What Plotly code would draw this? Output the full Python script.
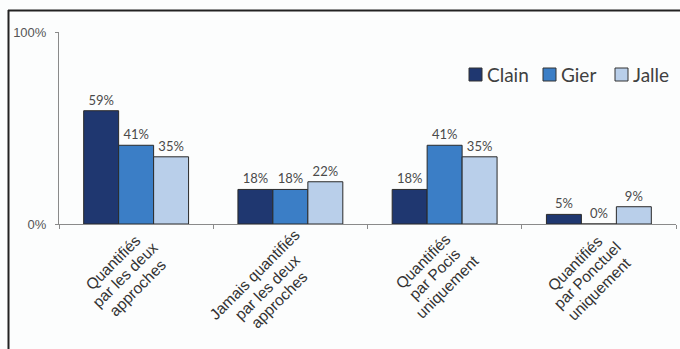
import math
import plotly.graph_objects as go

categories = [
    "Quantifiés<br>par les deux<br>approches",
    "Jamais quantifiés<br>par les deux<br>approches",
    "Quantifiés<br>par Pocis<br>uniquement",
    "Quantifiés<br>par Ponctuel<br>uniquement",
]
clain = [59, 18, 18, 5]
gier = [41, 18, 41, 0]
jalle = [35, 22, 35, 9]
series_names = ["Clain", "Gier", "Jalle"]
series_colors = ["#1f3770", "#3b7ec6", "#b9cfea"]
y_ticks = [0, 100]
y_tick_labels = ["0%", "100%"]

W, H = 680, 349
L, R, T, B = 59, 4, 32, 125

pw = W - L - R
ph = H - T - B


def px_x(p):
    return (p - L) / pw


def px_y(p):
    return (H - B - p) / ph


# Arial advance widths (per 1000 em) used to centre the rotated label lines
ARIAL_W = {" ": 278, "a": 556, "c": 500, "d": 556, "e": 556, "é": 556, "f": 278,
           "g": 556, "h": 556, "i": 222, "l": 222, "m": 833, "n": 556, "o": 556,
           "p": 556, "q": 556, "r": 333, "s": 500, "t": 278, "u": 556, "x": 500,
           "J": 500, "P": 667, "Q": 778}


def text_width(s, size):
    return sum(ARIAL_W.get(ch, 556) for ch in s) * size / 1000.0


fig = go.Figure()
for name, vals, col in zip(series_names, [clain, gier, jalle], series_colors):
    fig.add_trace(go.Bar(
        name=name, x=categories, y=vals,
        marker=dict(color=col, line=dict(color="#2a2a2a", width=1)),
        text=[f"{v}%" for v in vals], textposition="outside",
        textfont=dict(family="Lato", size=13, color="#4a4a4a"),
        cliponaxis=False, showlegend=False,
    ))

annotations = []

# rotated category labels: lines centred on each other, tight line spacing,
# block end anchored just right of and below each category centre
label_size = 15.5
line_step = 17.5
anchor_dx, anchor_dy = 19, 21
c45 = math.cos(math.radians(45))
for cat in categories:
    lines = cat.split("<br>")
    w = max(text_width(s, label_size) for s in lines)
    n = len(lines)
    for k, s in enumerate(lines):
        off = (k - (n - 1) / 2) * line_step
        cx = anchor_dx - (w / 2) * c45 + off * c45
        cy = anchor_dy + (w / 2) * c45 + off * c45
        annotations.append(dict(
            x=cat, xref="x", y=0, yref="paper", xshift=cx, yshift=-cy,
            xanchor="center", yanchor="middle", text=s, showarrow=False,
            textangle=-45,
            font=dict(family="Liberation Sans", size=label_size, color="#333333"),
        ))

shapes = [
    dict(type="line", xref="paper", yref="paper",
         x0=px_x(8), x1=px_x(W), y0=px_y(10.5), y1=px_y(10.5),
         line=dict(color="#222222", width=2)),
    dict(type="line", xref="paper", yref="paper",
         x0=px_x(8.5), x1=px_x(8.5), y0=px_y(10), y1=px_y(H),
         line=dict(color="#222222", width=2)),
]

# legend: square swatch followed by the series name
legend_x = [469, 543, 615]
for name, col, lx in zip(series_names, series_colors, legend_x):
    shapes.append(dict(
        type="rect", xref="paper", yref="paper",
        x0=px_x(lx), x1=px_x(lx + 13), y0=px_y(81), y1=px_y(68),
        fillcolor=col, line=dict(color="#333333", width=1),
    ))
    annotations.append(dict(
        x=px_x(lx + 16), y=px_y(74.5), xref="paper", yref="paper",
        xanchor="left", yanchor="middle", text=name, showarrow=False,
        font=dict(family="Lato", size=19, color="#404040"),
    ))

fig.update_layout(
    width=W, height=H,
    margin=dict(l=L, r=R, t=T, b=B),
    paper_bgcolor="#fcfdfd", plot_bgcolor="#fcfdfd",
    barmode="group", bargap=0.32, bargroupgap=0,
    showlegend=False,
    xaxis=dict(showline=True, linecolor="#8a8a8a", linewidth=1,
               ticks="outside", tickson="boundaries", ticklen=4, tickcolor="#8a8a8a",
               showticklabels=False),
    yaxis=dict(range=[0, 100], tickvals=y_ticks, ticktext=y_tick_labels,
               showline=True, linecolor="#8a8a8a", linewidth=1,
               showgrid=True, gridcolor="#8a8a8a", gridwidth=1, zeroline=False,
               ticks="outside", ticklen=3, tickcolor="#8a8a8a", ticklabelstandoff=6,
               tickfont=dict(family="Liberation Sans", size=13, color="#555555")),
    shapes=shapes,
    annotations=annotations,
)

fig.write_html("out.html")
